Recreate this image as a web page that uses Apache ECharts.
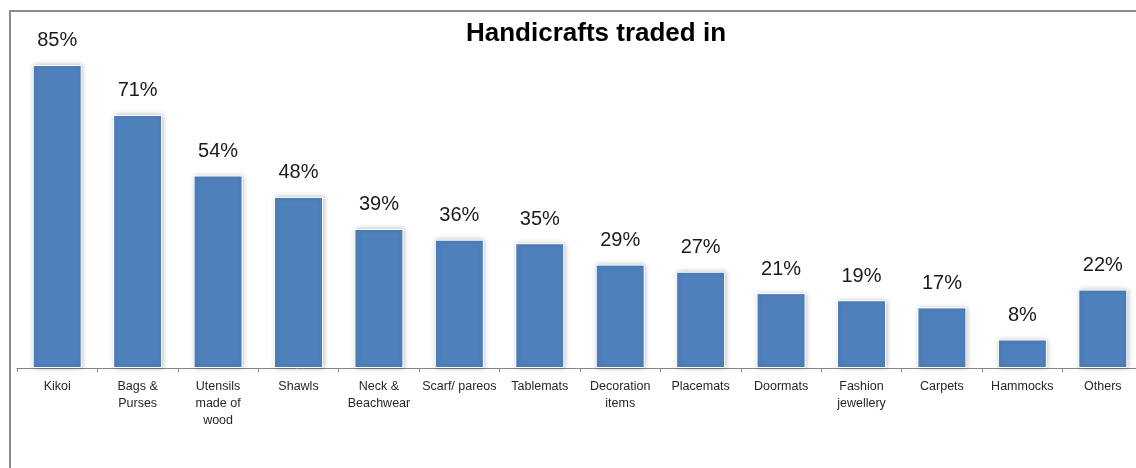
<!DOCTYPE html>
<html>
<head>
<meta charset="utf-8">
<title>Handicrafts traded in</title>
<script src="https://cdn.jsdelivr.net/npm/echarts@6/dist/echarts.min.js"></script>
<style>
  html, body { margin: 0; padding: 0; background: #ffffff; }
  #chart { width: 1136px; height: 468px; }
</style>
</head>
<body>
<div id="chart"></div>
<script>
// Handicraft types and the share of traders dealing in each (%)
const categories = [
  'Kikoi', 'Bags &\nPurses', 'Utensils\nmade of\nwood', 'Shawls', 'Neck &\nBeachwear',
  'Scarf/ pareos', 'Tablemats', 'Decoration\nitems', 'Placemats', 'Doormats',
  'Fashion\njewellery', 'Carpets', 'Hammocks', 'Others'
];
const shares = [85, 71, 54, 48, 39, 36, 35, 29, 27, 21, 19, 17, 8, 22];

const FONT = '"Liberation Sans", Arial, sans-serif';

const chart = echarts.init(document.getElementById('chart'), null, { renderer: 'canvas' });

chart.setOption({
  animation: false,
  backgroundColor: '#ffffff',
  title: {
    text: 'Handicrafts traded in',
    left: 591,
    top: 16,
    textAlign: 'center',
    textStyle: { fontFamily: FONT, fontSize: 26, fontWeight: 'bold', color: '#000000' }
  },
  graphic: [{
    type: 'rect',
    silent: true,
    z: 100,
    shape: { x: 10, y: 11, width: 1300, height: 700 },
    style: { fill: 'none', stroke: '#8c8c8c', lineWidth: 2 }
  }],
  // the plot runs a little past the right edge of the canvas
  grid: {
    left: 17, width: 1126, top: 11.5, bottom: 100,
    containLabel: false,
    outerBoundsMode: 'none'
  },
  xAxis: {
    type: 'category',
    data: categories,
    axisLine: { lineStyle: { color: '#868686', width: 1 } },
    axisTick: { show: true, length: 4, alignWithLabel: false, lineStyle: { color: '#868686' } },
    axisLabel: {
      interval: 0,
      margin: 10,
      fontFamily: FONT,
      fontSize: 12.5,
      lineHeight: 17,
      color: '#262626'
    }
  },
  yAxis: {
    type: 'value',
    min: 0,
    max: 100,
    show: false,
    splitLine: { show: false }
  },
  series: [{
    type: 'bar',
    data: shares,
    barWidth: 49,
    itemStyle: {
      color: '#4f81bd',
      borderColor: '#ffffff',
      borderWidth: 1,
      shadowColor: 'rgba(0,0,0,0.25)',
      shadowBlur: 5,
      shadowOffsetX: 1,
      shadowOffsetY: 0
    },
    label: {
      show: true,
      position: 'top',
      distance: 14,
      formatter: '{c}%',
      fontFamily: FONT,
      fontSize: 20,
      color: '#1a1a1a'
    }
  }]
});
</script>
</body>
</html>
